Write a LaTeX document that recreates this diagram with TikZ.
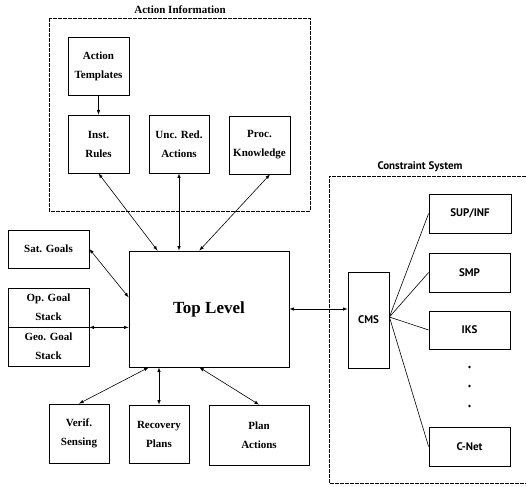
\documentclass[tikz,border=0pt]{standalone}
\usepackage{fontspec}
\setmainfont{Liberation Serif}
\setsansfont{PT Sans}
\usepackage{tikz}
\usetikzlibrary{arrows,calc,positioning}

\begin{document}
\begin{tikzpicture}[x=1pt,y=-1pt,>=latex,
  blk/.style={draw,line width=0.8pt,align=center,inner sep=0pt,
    font=\fontsize{11}{19}\selectfont\bfseries},
  cblk/.style={blk,font=\fontsize{11}{19}\selectfont\sffamily\bfseries},
  grp/.style={line width=0.6pt,dash pattern=on 4pt off 1pt},
  lnk/.style={<->,line width=0.6pt}]
\useasboundingbox (0,0) rectangle (526,486);
% action information
\draw[grp] (49,18) rectangle (310,211);
\node[font=\fontsize{11}{13}\selectfont\bfseries] (aititle) at (180,10) {Action Information};
\node[blk,minimum width=61,minimum height=58] (tmpl) at (98.5,66) {Action\\Templates};
\node[blk,minimum width=61,minimum height=58] (inst) at (98.5,144) {Inst.\\Rules};
\node[blk,minimum width=60,minimum height=58] (unc) at (179,144) {Unc. Red.\\Actions};
\node[blk,minimum width=61,minimum height=58] (proc) at (259.5,145) {Proc.\\Knowledge};
\draw[->,line width=0.6pt] (tmpl.south) -- (inst.north);
% top level and goals
\node[blk,minimum width=160,minimum height=116,font=\fontsize{17}{20}\selectfont\bfseries] (top) at (209,309) {Top Level};
\node[blk,minimum width=81,minimum height=38] (sat) at (48.5,249) {Sat. Goals};
\node[blk,minimum width=81,minimum height=39] (op) at (48.5,307.5) {Op. Goal\\Stack};
\node[blk,minimum width=81,minimum height=39] (geo) at (48.5,346.5) {Geo. Goal\\Stack};
\node[blk,minimum width=60,minimum height=59] (verif) at (79,433.5) {Verif.\\Sensing};
\node[blk,minimum width=60,minimum height=58] (recov) at (159,434) {Recovery\\Plans};
\node[blk,minimum width=100,minimum height=60] (plan) at (259,435) {Plan\\Actions};
\draw[lnk] (inst.south) -- ($(top.north west)!0.18!(top.north east)$);
\draw[lnk] (unc.south) -- (unc.south |- top.north);
\draw[lnk] ($(proc.south west)!0.67!(proc.south east)$) -- ($(top.north west)!0.44!(top.north east)$);
\draw[lnk] (sat.east) -- ($(top.north west)!0.4!(top.south west)$);
\draw[lnk] (op.south east) -- (op.south east -| top.west);
\draw[lnk] ($(top.south west)!0.125!(top.south east)$) -- (verif.north);
\draw[lnk] (recov.north) -- (recov.north |- top.south);
\draw[lnk] ($(top.south west)!0.44!(top.south east)$) -- (plan.north);
% constraint system
\draw[grp] (526,176) -- (329,176) -- (329,483) -- (526,483);
\node[font=\fontsize{11}{13}\selectfont\sffamily\bfseries] (cstitle) at (420,167) {Constraint System};
\node[cblk,minimum width=41,minimum height=96] (cms) at (368.5,320) {CMS};
\node[cblk,minimum width=82,minimum height=39] (sup) at (470,213.5) {SUP/INF};
\node[cblk,minimum width=81,minimum height=39] (smp) at (469.5,272.5) {SMP};
\node[cblk,minimum width=81,minimum height=38] (iks) at (469.5,330) {IKS};
\node[cblk,minimum width=81,minimum height=39] (cnet) at (469.5,446.5) {C-Net};
\draw[lnk] (top.east) -- (top.east -| cms.west);
\foreach \t in {sup,smp,iks,cnet}
  \draw[line width=0.6pt] ($(cms.east)+(0,-3)$) -- (\t.west);
\foreach \y in {367,386,406}
  \fill (469.5,\y) circle (1.3);
\end{tikzpicture}
\end{document}
